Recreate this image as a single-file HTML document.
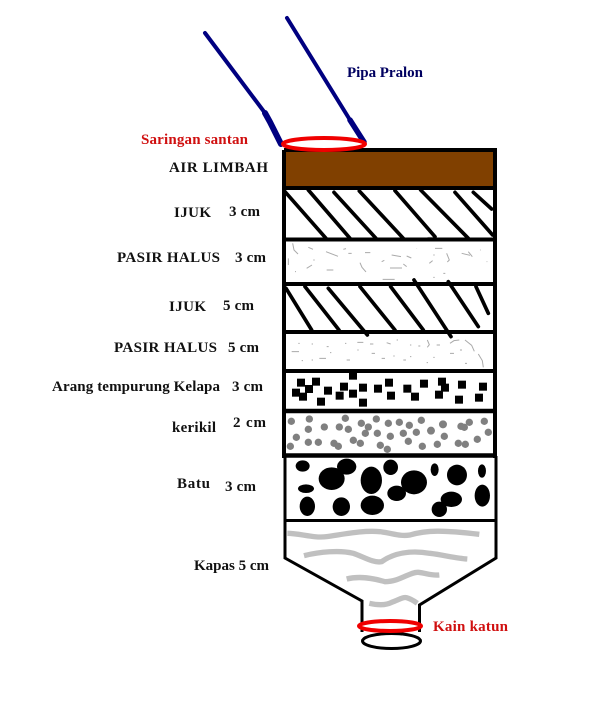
<!DOCTYPE html>
<html><head><meta charset="utf-8"><style>
html,body{margin:0;padding:0;background:#fff;width:602px;height:707px;overflow:hidden}
svg{display:block}
text{font-family:"Liberation Serif",serif;font-weight:bold;font-size:15px;fill:#111}
</style></head><body>
<svg width="602" height="707" viewBox="0 0 602 707" xmlns="http://www.w3.org/2000/svg">
<rect width="602" height="707" fill="#fff"/>
<!-- pipes -->
<g fill="none" stroke="#000080" stroke-width="4" stroke-linecap="round">
<path d="M205,33L265,113"/>
<path d="M265,113L270,122L281,144" stroke-width="6"/>
<path d="M287,18L350,120"/>
<path d="M350,120L364,142" stroke-width="5.500"/>
</g>
<!-- brown -->
<rect x="284" y="150" width="211" height="38" fill="#804000"/>
<!-- noise -->
<g transform="translate(270,130) scale(.3333)" fill="none" stroke="#aaa" stroke-width="3">
<path d="M68,340l4,20l12,12M115,352l14,6M168,365l36,14M220,358l8,-2M235,370l10,0M285,368l16,0M365,375l28,5M410,378l14,6M495,355l22,0M575,370l25,6M595,365l12,15M360,414l36,0M338,448l36,0M270,398l6,14l12,14M335,395l8,-4M400,402l10,8M55,385l0,20M110,415l16,-10M170,420l20,0M490,375l4,0M530,370l8,20l-6,6M440,355l0,1M435,445l0,6M520,430l6,0M490,442l4,0M650,395l2,0M630,360l2,0M460,328l16,-6l14,0M478,400l10,-8M75,425l3,0M130,390l4,0"/>
</g>
<g transform="translate(270,330) scale(.3333)" fill="none" stroke="#aaa" stroke-width="3">
<path d="M65,65l22,0M85,40l4,0M125,42l4,0M170,50l6,0M95,92l4,0M148,85l20,0M180,68l4,0M225,40l4,0M262,37l18,0M300,42l10,0M350,38l12,4M380,30l4,0M262,60l4,0M230,90l10,0M305,70l10,0M335,85l10,0M370,78l4,0M420,45l4,0M445,48l6,0M472,30l6,14l-6,8M500,45l10,0M540,40l12,-8l16,-2M585,30l20,16l8,18M625,72l12,20l3,20M540,70l12,0M570,60l6,0M420,80l4,0M490,82l4,0M585,100l6,0M470,98l4,0M400,90l8,0M125,90l4,0"/>
</g>
<!-- hatch -->
<g transform="translate(270,130) scale(.3333)" fill="none" stroke="#000" stroke-width="11" stroke-linecap="round">
<path d="M45,185L168,325M115,180L240,325M192,187L318,325M268,183L400,325M375,182L495,320M452,180L595,325M555,187L668,315M610,187L665,237"/>
<path d="M48,475L125,600M105,470L207,600M175,475L292,615M270,470L375,600M362,470L460,600M432,450L543,620M535,455L625,590M618,470L655,550"/>
</g>
<!-- squares -->
<g transform="translate(270,330) scale(.3333)" fill="#000">
<rect x="81" y="146" width="24" height="24"/><rect x="126" y="143" width="24" height="24"/><rect x="105" y="165" width="24" height="24"/><rect x="66" y="176" width="24" height="24"/><rect x="87" y="188" width="24" height="24"/><rect x="162" y="170" width="24" height="24"/><rect x="141" y="203" width="24" height="24"/><rect x="237" y="125" width="24" height="24"/><rect x="210" y="158" width="24" height="24"/><rect x="197" y="185" width="24" height="24"/><rect x="237" y="179" width="24" height="24"/><rect x="267" y="161" width="24" height="24"/><rect x="267" y="206" width="24" height="24"/><rect x="312" y="164" width="24" height="24"/><rect x="345" y="146" width="24" height="24"/><rect x="351" y="185" width="24" height="24"/><rect x="400" y="164" width="24" height="24"/><rect x="423" y="188" width="24" height="24"/><rect x="450" y="149" width="24" height="24"/><rect x="504" y="143" width="24" height="24"/><rect x="513" y="161" width="24" height="24"/><rect x="495" y="182" width="24" height="24"/><rect x="564" y="152" width="24" height="24"/><rect x="555" y="197" width="24" height="24"/><rect x="627" y="158" width="24" height="24"/><rect x="615" y="191" width="24" height="24"/>
</g>
<!-- gravel -->
<g transform="translate(270,330) scale(.3333)" fill="#808080">
<circle cx="64" cy="274" r="11"/><circle cx="118" cy="267" r="11"/><circle cx="115" cy="298" r="11"/><circle cx="163" cy="291" r="11"/><circle cx="208" cy="291" r="11"/><circle cx="226" cy="265" r="11"/><circle cx="235" cy="298" r="11"/><circle cx="274" cy="280" r="11"/><circle cx="295" cy="291" r="11"/><circle cx="286" cy="310" r="11"/><circle cx="319" cy="267" r="11"/><circle cx="322" cy="310" r="11"/><circle cx="355" cy="280" r="11"/><circle cx="388" cy="277" r="11"/><circle cx="418" cy="286" r="11"/><circle cx="454" cy="271" r="11"/><circle cx="439" cy="307" r="11"/><circle cx="400" cy="310" r="11"/><circle cx="361" cy="319" r="11"/><circle cx="79" cy="322" r="11"/><circle cx="115" cy="337" r="11"/><circle cx="145" cy="337" r="11"/><circle cx="61" cy="349" r="11"/><circle cx="192" cy="340" r="11"/><circle cx="205" cy="349" r="11"/><circle cx="250" cy="331" r="11"/><circle cx="271" cy="340" r="11"/><circle cx="331" cy="346" r="11"/><circle cx="352" cy="358" r="11"/><circle cx="415" cy="334" r="11"/><circle cx="457" cy="349" r="11"/><circle cx="502" cy="343" r="11"/><circle cx="523" cy="319" r="11"/><circle cx="483" cy="302" r="12"/><circle cx="519" cy="283" r="12"/><circle cx="573" cy="289" r="11"/><circle cx="583" cy="292" r="11"/><circle cx="598" cy="277" r="11"/><circle cx="643" cy="274" r="11"/><circle cx="655" cy="307" r="11"/><circle cx="622" cy="328" r="11"/><circle cx="565" cy="340" r="11"/><circle cx="586" cy="343" r="11"/>
</g>
<!-- stones -->
<g transform="translate(270,330) scale(.3333)" fill="#000">
<ellipse cx="98" cy="408" rx="21" ry="17"/><ellipse cx="230" cy="410" rx="29" ry="24"/><ellipse cx="185" cy="446" rx="39" ry="34"/><ellipse cx="304" cy="451" rx="32" ry="41"/><ellipse cx="362" cy="412" rx="22" ry="23"/><ellipse cx="432" cy="457" rx="39" ry="36"/><ellipse cx="380" cy="490" rx="28" ry="23"/><ellipse cx="494" cy="419" rx="12" ry="19"/><ellipse cx="561" cy="435" rx="30" ry="31"/><ellipse cx="636" cy="423" rx="12" ry="20"/><ellipse cx="108" cy="476" rx="24" ry="13"/><ellipse cx="112" cy="529" rx="23" ry="29"/><ellipse cx="214" cy="530" rx="26" ry="28"/><ellipse cx="307" cy="526" rx="35" ry="29"/><ellipse cx="637" cy="497" rx="23" ry="33"/><ellipse cx="544" cy="508" rx="32" ry="23"/><ellipse cx="508" cy="538" rx="23" ry="23"/>
</g>
<!-- cotton -->
<g transform="translate(270,515) scale(.3333)" fill="none" stroke="#c0c0c0" stroke-width="16">
<path d="M52,55C90,55 130,70 170,65C220,58 280,45 330,50C370,55 390,65 420,60C470,45 520,45 628,58"/>
<path d="M102,122C150,110 210,105 250,115C280,125 310,145 335,140C370,115 420,105 480,115C520,120 560,130 592,132"/>
<path d="M230,192C270,182 310,190 345,200C390,200 420,170 445,172C470,175 485,182 508,180"/>
<path d="M298,265C320,270 345,272 365,262C385,255 400,245 410,248C425,252 435,260 442,265"/>
</g>
<!-- frame -->
<g fill="none" stroke="#000">
<path d="M284,150H495V458" stroke-width="4"/>
<path d="M284,150V458" stroke-width="4"/>
<path d="M282,188H497M284,239.500H495M284,284H495M284,332H495M284,371H495" stroke-width="4"/>
<path d="M284,411H495M282,455.500H497" stroke-width="4.500"/>
<path d="M284,520.500H496" stroke-width="3"/>
<path d="M285,456V558L362,601V632M496,456V558L419.500,605V632" stroke-width="3"/>
<ellipse cx="391.500" cy="641" rx="29" ry="7.500" fill="#fff" stroke-width="3"/>
</g>
<!-- red rings -->
<ellipse cx="324" cy="144" rx="41" ry="6" fill="#fff" stroke="#f00000" stroke-width="4"/>
<ellipse cx="390" cy="626" rx="31" ry="5" fill="#fff" stroke="#f00000" stroke-width="4"/>
<!-- labels -->
<text x="347" y="77" textLength="76" style="fill:#000060">Pipa Pralon</text>
<text x="141" y="144" textLength="107" style="fill:#d01010">Saringan santan</text>
<text x="169" y="172" textLength="99">AIR LIMBAH</text>
<text x="174" y="217" textLength="37">IJUK</text>
<text x="229" y="216" textLength="31">3 cm</text>
<text x="117" y="262" textLength="103">PASIR HALUS</text>
<text x="235" y="262" textLength="31">3 cm</text>
<text x="169" y="311" textLength="37">IJUK</text>
<text x="223" y="310" textLength="31">5 cm</text>
<text x="114" y="352" textLength="103">PASIR HALUS</text>
<text x="228" y="352" textLength="31">5 cm</text>
<text x="52" y="391" textLength="168">Arang tempurung Kelapa</text>
<text x="232" y="391" textLength="31">3 cm</text>
<text x="172" y="432" textLength="44">kerikil</text>
<text x="233" y="427" textLength="33">2 cm</text>
<text x="177" y="488" textLength="33">Batu</text>
<text x="225" y="491" textLength="31">3 cm</text>
<text x="194" y="570" textLength="75">Kapas 5 cm</text>
<text x="433" y="631" textLength="75" style="fill:#d01010">Kain katun</text>
</svg>
</body></html>
